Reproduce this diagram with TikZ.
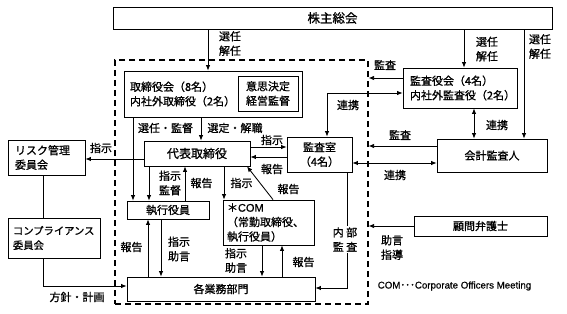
\documentclass[tikz,border=0pt]{standalone}
\usepackage{fontspec}
\setmainfont{Noto Sans CJK JP}[FakeBold=1]
\newfontfamily\latinfont{Liberation Sans}[FakeBold=0.6]
\usetikzlibrary{arrows.meta}
\newcommand{\jf}{\fontsize{11}{14.5}\selectfont}
\newcommand{\bigjf}{\fontsize{12.5}{15}\selectfont}
\begin{document}
\begin{tikzpicture}[x=1pt,y=-1pt,
  every node/.style={font=\jf},
  box/.style={draw, line width=0.8pt, inner sep=0pt},
  ltext/.style={align=left, inner ysep=0pt},
  arr/.style={-{Latex[length=5.5pt,width=4.5pt]}, line width=0.85pt},
  arrb/.style={{Latex[length=5.5pt,width=4.5pt]}-{Latex[length=5.5pt,width=4.5pt]}, line width=0.85pt},
  ln/.style={line width=0.85pt},
  lbl/.style={inner sep=0pt, align=center},
  frm/.style={draw, line width=1.2pt, dash pattern=on 6pt off 4pt, inner sep=0pt}]
\useasboundingbox (0,0) rectangle (567,313);

% frame
\node[frm, minimum width=253pt, minimum height=244pt] (frame) at (241.5,182) {};

% boxes
\node[box, minimum width=439pt, minimum height=22pt, font=\bigjf] (sh) at (332.5,18) {株主総会};
\node[box, ltext, minimum height=46pt, text width=166pt, inner xsep=6pt] (tb) at (213,94) {取締役会（8名）\\内社外取締役（2名）};
\node[box, lbl, minimum width=60pt, minimum height=35pt] (ik) at (268,93.5) {意思決定\\経営監督};
\node[box, minimum width=106pt, minimum height=25pt, font=\fontsize{12}{14}\selectfont] (dh) at (197,153.5) {代表取締役};
\node[box, lbl, minimum width=65pt, minimum height=35pt] (ks) at (319.5,154.5) {監査室\\（4名）};
\node[box, minimum width=82pt, minimum height=18pt] (sy) at (168,210) {執行役員};
\node[box, ltext, minimum height=45pt, text width=83pt, inner xsep=4pt] (com) at (268.5,222.5) {＊{\latinfont COM}\\（常勤取締役、\\執行役員）};
\node[box, minimum width=188pt, minimum height=24pt] (kg) at (221,289) {各業務部門};
\node[box, ltext, minimum height=40pt, text width=100pt, inner xsep=7pt] (kay) at (460,88) {監査役会（4名）\\内社外監査役（2名）};
\node[box, minimum width=110pt, minimum height=33pt] (kk) at (492,155.5) {会計監査人};
\node[box, minimum width=133pt, minimum height=20pt] (km) at (480.5,226) {顧問弁護士};
\node[box, ltext, minimum height=35pt, text width=63pt, inner xsep=7pt] (rk) at (46.5,157.5) {リスク管理\\委員会};
\node[box, ltext, minimum height=40pt, text width=82pt, inner xsep=5pt, font=\fontsize{10.3}{14.5}\selectfont] (cp) at (54,238) {コンプライアンス\\委員会};

% connectors
\draw[arr] (sh.south -| 208,0) -- (tb.north -| 208,0);
\draw[arr] (sh.south -| 464,0) -- (kay.north -| 464,0);
\draw[arr] (sh.south -| 524,0) -- (kk.north -| 524,0);
\draw[arr] (tb.south -| 201,0) -- (dh.north -| 201,0);
\draw[arr] (tb.south -| 133,0) -- (sy.north -| 133,0);
\draw[arr] (dh.south -| 149,0) -- (sy.north -| 149,0);
\draw[arr] (sy.north -| 185,0) -- (dh.south -| 185,0);
\draw[arr] (dh.south -| 224,0) -- (com.north -| 224,0);
\draw[arr] (com.north -| 273,0) -- (dh.south -| 247,0);
\draw[arr] (kg.north -| 148,0) -- (sy.south -| 148,0);
\draw[arr] (sy.south -| 161,0) -- (kg.north -| 161,0);
\draw[arr] (com.south -| 262,0) -- (kg.north -| 262,0);
\draw[arr] (kg.north -| 282,0) -- (com.south -| 282,0);
\draw[arr] (dh.east |- 0,147) -- (ks.west |- 0,147);
\draw[arr] (ks.west |- 0,157) -- (dh.east |- 0,157);
\draw[arr] (dh.west |- 0,159) -- (rk.east |- 0,159);
\draw[arrb] (kay.west |- 0,93) -| (ks.north -| 327,0);
\draw[arr] (kay.west |- 0,78) -- (frame.east |- 0,78);
\draw[arrb] (kay.south -| 474,0) -- (kk.north -| 474,0);
\draw[arr] (kk.west |- 0,146) -- (frame.east |- 0,146);
\draw[arrb] (ks.east |- 0,163) -- (kk.west |- 0,163);
\draw[arr] (km.west) -- (frame.east |- km.west);
\draw[arr] (ks.south -| 347,0) |- (kg.east |- 0,288);
\draw[ln] (rk.south -| 43,0) -- (cp.north -| 43,0);
\draw[arr] (cp.south -| 43,0) |- (kg.west |- 0,286);

% labels
\node[lbl] (l1) at (230,43.5) {選任\\解任};
\node[lbl] (l2) at (487,49) {選任\\解任};
\node[lbl] (l3) at (540,46.5) {選任\\解任};
\node[lbl] (l4) at (385,65) {監査};
\node[lbl] (l5) at (348,105) {連携};
\node[lbl] (l6) at (497,125) {連携};
\node[lbl] (l7) at (400,135) {監査};
\node[lbl] (l8) at (395,175) {連携};
\node[lbl] (l9) at (272,140) {指示};
\node[lbl] (l10) at (272,169) {報告};
\node[lbl] (l11) at (165.5,128) {選任・監督};
\node[lbl] (l12) at (235,128) {選定・解職};
\node[lbl] (l13) at (170,183) {指示\\監督};
\node[lbl] (l14) at (201.5,183) {報告};
\node[lbl] (l15) at (241.5,183) {指示};
\node[lbl] (l16) at (288.5,189) {報告};
\node[lbl] (l17) at (131.5,247) {報告};
\node[lbl] (l18) at (179,249) {指示\\助言};
\node[lbl] (l19) at (236,260.5) {指示\\助言};
\node[lbl] (l20) at (303.5,262) {報告};
\node[lbl, fill=white, inner sep=1pt] (l21) at (345,239.5) {内 部\\監 査};
\node[lbl] (l22) at (392,247.5) {助言\\指導};
\node[lbl] (l23) at (101,148) {指示};
\node[lbl] (l24) at (77,297) {方針・計画};
\node[lbl, font=\fontsize{9.7}{11}\selectfont] (l25) at (454.5,286) {{\latinfont COM}･･･{\latinfont Corporate Officers Meeting}};
\end{tikzpicture}
\end{document}
